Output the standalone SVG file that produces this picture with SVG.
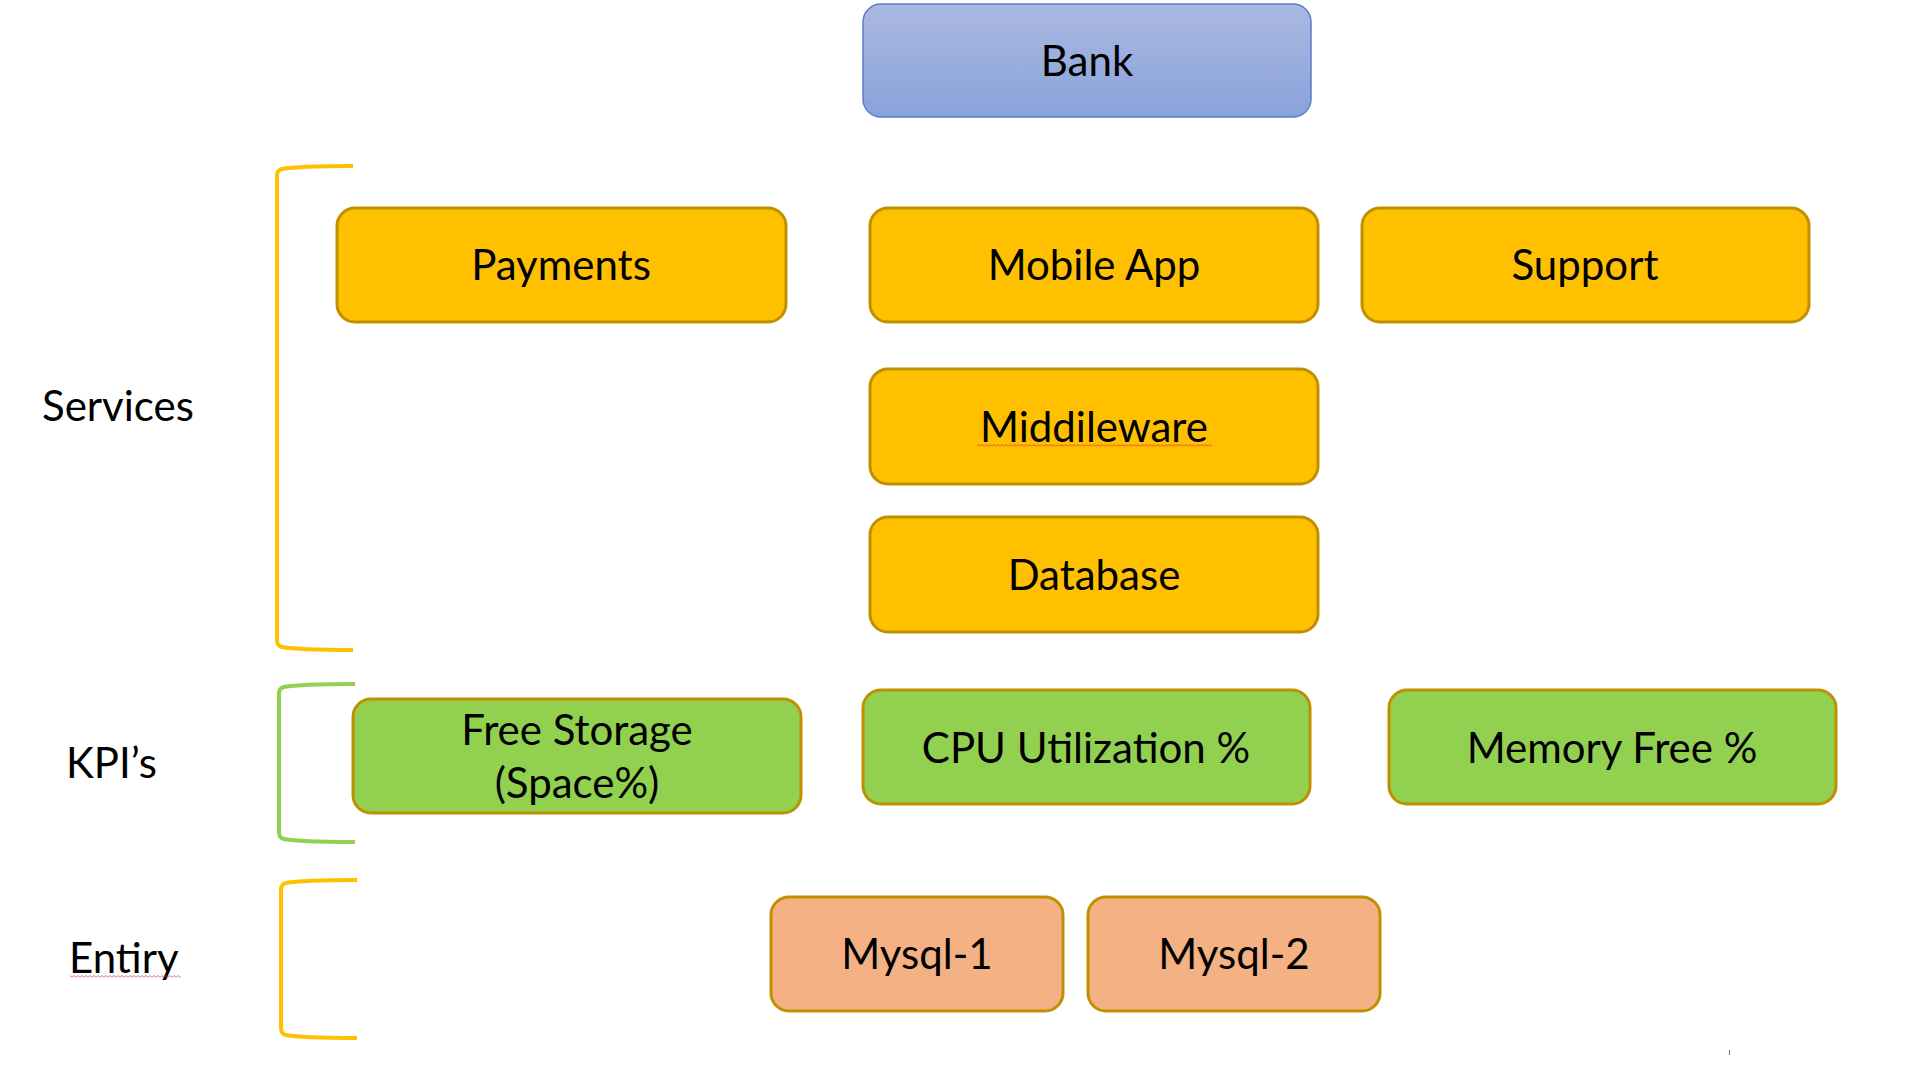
<svg xmlns="http://www.w3.org/2000/svg" width="1917" height="1080" viewBox="0 0 1917 1080">
  <style>
    .t { font-family: Lato, "Open Sans", "Liberation Sans", sans-serif; font-size: 42px; fill: #000; text-anchor: middle; }
    .lbl { font-family: Lato, "Open Sans", "Liberation Sans", sans-serif; font-size: 42px; fill: #000; }
    .svc { fill: #FFC000; stroke: #BF9000; stroke-width: 3; }
    .kpi { fill: #92D050; stroke: #BF9000; stroke-width: 3; }
    .ent { fill: #F4B183; stroke: #BF9000; stroke-width: 3; }
    .brY { fill: none; stroke: #FFC000; stroke-width: 4; }
    .brG { fill: none; stroke: #92D050; stroke-width: 4; }
  </style>
  <defs>
    <linearGradient id="bankGrad" x1="0" y1="0" x2="0" y2="1">
      <stop offset="0" stop-color="#AAB9E2"/>
      <stop offset="1" stop-color="#8AA2DA"/>
    </linearGradient>
    <pattern id="squiggle" width="4" height="3" patternUnits="userSpaceOnUse">
      <path d="M0,2.5 L2,0.5 L4,2.5" fill="none" stroke="#E03030" stroke-width="0.8"/>
    </pattern>
  </defs>
  <rect width="1917" height="1080" fill="#FFFFFF"/>

  <g id="connectors"></g>

  <g id="brackets">
    <path class="brY" d="M353,166 C320,166 292,167 282,169 Q277,170 277,176 L277,640 Q277,646 282,647 C292,649 320,650 353,650"/>
    <path class="brG" d="M355,684 C322,684 294,685 284,687 Q279,688 279,694 L279,832 Q279,838 284,839 C294,841 322,842 355,842"/>
    <path class="brY" d="M357,880 C324,880 296,881 286,883 Q281,884 281,890 L281,1028 Q281,1034 286,1035 C296,1037 324,1038 357,1038"/>
  </g>

  <g id="labels">
    <text class="lbl" x="42" y="421">Services</text>
    <text class="lbl" x="66" y="778">KPI’s</text>
    <text class="lbl" x="69" y="973">Entiry</text>
    <rect x="70" y="975" width="111" height="3" fill="url(#squiggle)"/>
  </g>

  <g id="node-bank">
    <rect x="863" y="4" width="448" height="113" rx="18" fill="url(#bankGrad)" stroke="#5B7EC6" stroke-width="1.5"/>
    <text class="t" x="1087" y="76">Bank</text>
  </g>

  <g id="node-payments">
    <rect class="svc" x="337" y="208" width="449" height="114" rx="18"/>
    <text class="t" x="561" y="280">Payments</text>
  </g>
  <g id="node-mobile-app">
    <rect class="svc" x="870" y="208" width="448" height="114" rx="18"/>
    <text class="t" x="1094" y="280">Mobile App</text>
  </g>
  <g id="node-support">
    <rect class="svc" x="1362" y="208" width="447" height="114" rx="18"/>
    <text class="t" x="1585" y="280">Support</text>
  </g>
  <g id="node-middileware">
    <rect class="svc" x="870" y="369" width="448" height="115" rx="18"/>
    <text class="t" x="1094" y="442">Middileware</text>
    <rect x="977" y="444" width="235" height="3" fill="url(#squiggle)"/>
  </g>
  <g id="node-database">
    <rect class="svc" x="870" y="517" width="448" height="115" rx="18"/>
    <text class="t" x="1094" y="590">Database</text>
  </g>

  <g id="node-free-storage">
    <rect class="kpi" x="353" y="699" width="448" height="114" rx="18"/>
    <text class="t" x="577" y="745">Free Storage</text>
    <text class="t" x="577" y="798">(Space%)</text>
  </g>
  <g id="node-cpu">
    <rect class="kpi" x="863" y="690" width="447" height="114" rx="18"/>
    <text class="t" x="1086" y="763">CPU Utilization %</text>
  </g>
  <g id="node-memory">
    <rect class="kpi" x="1389" y="690" width="447" height="114" rx="18"/>
    <text class="t" x="1612" y="763">Memory Free %</text>
  </g>

  <g id="node-mysql-1">
    <rect class="ent" x="771" y="897" width="292" height="114" rx="18"/>
    <text class="t" x="917" y="969">Mysql-1</text>
  </g>
  <g id="node-mysql-2">
    <rect class="ent" x="1088" y="897" width="292" height="114" rx="18"/>
    <text class="t" x="1234" y="969">Mysql-2</text>
  </g>

  <line x1="1729.5" y1="1050" x2="1729.5" y2="1055" stroke="#777777" stroke-width="1"/>
</svg>
